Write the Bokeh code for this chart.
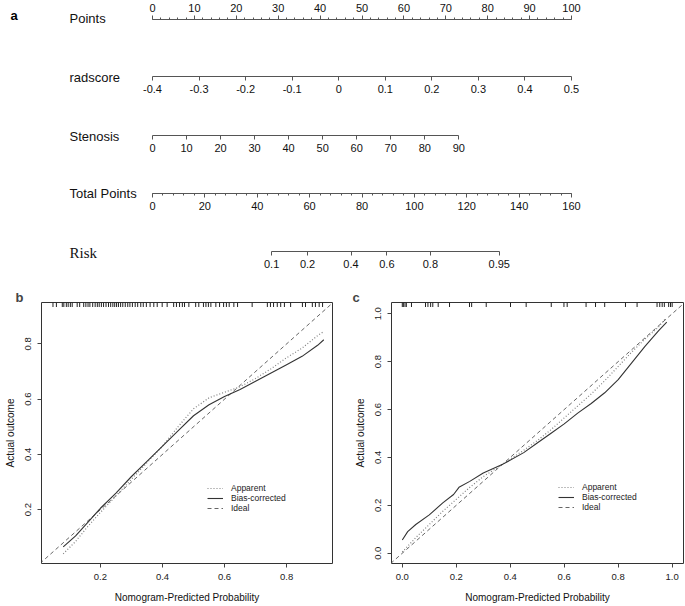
import numpy as np
from bokeh.plotting import figure
from bokeh.layouts import column, row
from bokeh.models import (Range1d, LinearAxis, SingleIntervalTicker, FixedTicker,
                          Label, Legend, LegendItem, NumeralTickFormatter)
from bokeh.embed import file_html
from bokeh.resources import INLINE

FONT = "Liberation Sans"
SERIF = "Liberation Serif"

# ---------------- data: nomogram (panel a) ----------------
row_names = ["Points", "radscore", "Stenosis", "Total Points", "Risk"]
points_range = [0, 100]
radscore_ticks = [-0.4, -0.3, -0.2, -0.1, 0.0, 0.1, 0.2, 0.3, 0.4, 0.5]
radscore_labels = ["-0.4", "-0.3", "-0.2", "-0.1", "0", "0.1", "0.2", "0.3", "0.4", "0.5"]
stenosis_range = [0, 90]
stenosis_points_at_max = 73.1          # points given to Stenosis = 90
total_range = [0, 160]
risk_labels = ["0.1", "0.2", "0.4", "0.6", "0.8", "0.95"]
risk_total_points = [45.5, 59.2, 75.8, 89.5, 106.1, 132.4]

# ---------------- data: calibration (panel b) ----------------
b_rug = [0.047, 0.058, 0.077, 0.082, 0.090, 0.096, 0.103, 0.109, 0.125, 0.133,
         0.146, 0.153, 0.160, 0.166, 0.175, 0.183, 0.190, 0.196, 0.203, 0.210,
         0.218, 0.226, 0.233, 0.240, 0.246, 0.252, 0.258, 0.265, 0.272, 0.280,
         0.288, 0.295, 0.303, 0.312, 0.320, 0.330, 0.338, 0.348, 0.360, 0.372,
         0.383, 0.399, 0.415, 0.436, 0.445, 0.455, 0.464, 0.471, 0.485, 0.507,
         0.517, 0.532, 0.540, 0.548, 0.556, 0.572, 0.584, 0.597, 0.606, 0.615,
         0.630, 0.642, 0.689, 0.738, 0.748, 0.758, 0.770, 0.781, 0.793, 0.813,
         0.851, 0.861, 0.883, 0.893, 0.905, 0.916]
b_pred = [0.08, 0.12, 0.16, 0.20, 0.25, 0.30, 0.35, 0.40, 0.45, 0.50,
          0.55, 0.60, 0.65, 0.70, 0.75, 0.80, 0.85, 0.90, 0.92]
b_apparent = [0.040, 0.085, 0.140, 0.190, 0.250, 0.310, 0.370, 0.430, 0.500, 0.565,
              0.605, 0.625, 0.645, 0.675, 0.710, 0.750, 0.785, 0.830, 0.845]
b_bias = [0.065, 0.105, 0.155, 0.205, 0.260, 0.320, 0.375, 0.430, 0.485, 0.540,
          0.580, 0.610, 0.635, 0.665, 0.695, 0.725, 0.755, 0.795, 0.815]
b_xticks = [0.2, 0.4, 0.6, 0.8]
b_yticks = [0.2, 0.4, 0.6, 0.8]

# ---------------- data: calibration (panel c) ----------------
c_rug = [0.0, 0.004, 0.010, 0.015, 0.034, 0.086, 0.095, 0.105, 0.113, 0.133,
         0.175, 0.249, 0.257, 0.311, 0.401, 0.459, 0.552, 0.599, 0.611, 0.681,
         0.716, 0.750, 0.827, 0.870, 0.944, 0.954, 0.963, 0.971, 0.987, 0.994, 1.0]
c_app_pred = [0.0, 0.05, 0.10, 0.15, 0.20, 0.25, 0.30, 0.37, 0.45, 0.50,
              0.55, 0.60, 0.65, 0.70, 0.75, 0.80, 0.85, 0.90, 0.95, 0.975]
c_apparent = [0.005, 0.065, 0.120, 0.175, 0.225, 0.275, 0.320, 0.370, 0.430, 0.470,
              0.515, 0.565, 0.615, 0.665, 0.720, 0.780, 0.840, 0.895, 0.945, 0.980]
c_bias_pred = [0.0, 0.02, 0.05, 0.10, 0.15, 0.19, 0.21, 0.25, 0.30, 0.37, 0.45,
               0.50, 0.55, 0.60, 0.65, 0.70, 0.75, 0.80, 0.85, 0.90, 0.95, 0.98]
c_bias = [0.055, 0.090, 0.120, 0.160, 0.210, 0.245, 0.275, 0.300, 0.335, 0.370, 0.420,
          0.460, 0.500, 0.540, 0.585, 0.625, 0.670, 0.725, 0.795, 0.865, 0.930, 0.965]
c_xticks = [0.0, 0.2, 0.4, 0.6, 0.8, 1.0]
c_yticks = [0.0, 0.2, 0.4, 0.6, 0.8, 1.0]

# ---------------- layout constants ----------------
W = 685
NAME_W = 139
AX_W = W - NAME_W
P0, P1 = 152 - NAME_W, 571 - NAME_W   # axis-figure pixels of 0 and 100 points
AXC = "#555555"
ROW_H = [36, 59, 59, 58, 58]           # heights of the nomogram rows
NAME_Y = [18, 77, 136, 193, 252]       # vertical centres of the row names (from top)
TOP_H = sum(ROW_H)


def bare(width, height, xr, yr):
    p = figure(width=width, height=height, x_range=xr, y_range=yr,
               output_backend="svg", toolbar_location=None,
               x_axis_location=None, y_axis_location=None, min_border=0)
    p.outline_line_color = None
    p.grid.visible = False
    return p


def nomo(height, v0, v1, px0, px1, side, ticker, overrides=None, minor=True, bounds=None):
    k = (v1 - v0) / (px1 - px0)
    p = bare(AX_W, height, Range1d(v0 - px0 * k, v1 + (AX_W - px1) * k), Range1d(0, 1))
    ax = LinearAxis(ticker=ticker, bounds=bounds or (v0, v1),
                    axis_line_color=AXC, major_tick_line_color=AXC,
                    minor_tick_line_color=AXC if minor else None,
                    major_tick_out=4, major_tick_in=0, minor_tick_out=2, minor_tick_in=0,
                    major_label_standoff=4,
                    major_label_text_font=FONT, major_label_text_font_size="11px",
                    major_label_text_color="#111111")
    if overrides:
        ax.major_label_overrides = overrides
    p.add_layout(ax, side)
    return p


f_points = nomo(ROW_H[0], points_range[0], points_range[1], P0, P1, "above",
                SingleIntervalTicker(interval=10, num_minor_ticks=5))
f_rad = nomo(ROW_H[1], radscore_ticks[0], radscore_ticks[-1], P0, P1, "below",
             FixedTicker(ticks=radscore_ticks),
             overrides=dict(zip(radscore_ticks, radscore_labels)), minor=False)
sten_px1 = P0 + (P1 - P0) * stenosis_points_at_max / 100.0
f_sten = nomo(ROW_H[2], stenosis_range[0], stenosis_range[1], P0, sten_px1, "below",
              SingleIntervalTicker(interval=10, num_minor_ticks=0), minor=False)
f_total = nomo(ROW_H[3], total_range[0], total_range[1], P0, P1, "below",
               SingleIntervalTicker(interval=20, num_minor_ticks=5))
# Risk axis lives on the total-points scale
f_risk = nomo(ROW_H[4], total_range[0], total_range[1], P0, P1, "below",
              FixedTicker(ticks=risk_total_points),
              overrides=dict(zip(risk_total_points, risk_labels)),
              minor=False, bounds=(risk_total_points[0], risk_total_points[-1]))

# one tall figure holding the row names
f_names = bare(NAME_W, TOP_H, Range1d(0, NAME_W), Range1d(0, TOP_H))
for name, yc in zip(row_names, NAME_Y):
    f_names.add_layout(Label(x=69, y=TOP_H - yc, text=name,
                             text_font=SERIF if name == "Risk" else FONT,
                             text_font_size="15px" if name == "Risk" else "13px",
                             text_baseline="middle", text_align="left",
                             text_color="#111111"))
f_names.add_layout(Label(x=10, y=TOP_H - 15, text="a", text_font=FONT,
                         text_font_size="13px", text_font_style="bold",
                         text_baseline="middle", text_align="left", text_color="#000000"))


def calib(width, xr, yr, mbl, mbr, xt, yt, rug, app_x, app_y, bias_x, bias_y,
          letter, letter_dx, leg_x, leg_y):
    p = figure(width=width, height=606 - TOP_H, x_range=Range1d(*xr), y_range=Range1d(*yr),
               output_backend="svg", toolbar_location=None,
               min_border_left=mbl, min_border_right=mbr,
               min_border_top=32, min_border_bottom=43)
    p.grid.visible = False
    p.outline_line_color = "#333333"
    p.outline_line_width = 1
    for ax, ticks in ((p.xaxis[0], xt), (p.yaxis[0], yt)):
        ax.ticker = FixedTicker(ticks=ticks)
        ax.formatter = NumeralTickFormatter(format="0.0")
        ax.axis_line_color = None
        ax.major_tick_line_color = "#444444"
        ax.minor_tick_line_color = None
        ax.major_tick_out = 4
        ax.major_tick_in = 0
        ax.major_label_standoff = 6
        ax.major_label_text_font = FONT
        ax.major_label_text_font_size = "9.5px"
        ax.major_label_text_color = "#222222"
        ax.axis_label_text_font = FONT
        ax.axis_label_text_font_size = "10px"
        ax.axis_label_text_font_style = "normal"
        ax.axis_label_text_color = "#111111"
    p.xaxis[0].axis_label = "Nomogram-Predicted Probability"
    p.xaxis[0].axis_label_standoff = 9
    p.yaxis[0].axis_label = "Actual outcome"
    p.yaxis[0].axis_label_standoff = 7
    p.yaxis[0].major_label_orientation = "vertical"

    p.title.text = letter
    p.title.align = "left"
    p.title.offset = letter_dx
    p.title.text_font = FONT
    p.title.text_font_size = "13px"
    p.title.text_font_style = "bold"
    p.title.standoff = -4
    p.title.vertical_align = "bottom"

    lo, hi = min(xr[0], yr[0]), max(xr[1], yr[1])
    r_ideal = p.line(x=[lo, hi], y=[lo, hi], line_color="#666666", line_width=1,
                     line_dash="4 3")
    r_app = p.line(x=app_x, y=app_y, line_color="#808080", line_width=1.2,
                   line_dash="1 2")
    r_bias = p.line(x=bias_x, y=bias_y, line_color="#333333", line_width=1.1)
    p.scatter(x=rug, y=[yr[1]] * len(rug), marker="dash", angle=np.pi / 2, size=9,
              line_color="#222222", line_width=1)

    leg = Legend(items=[LegendItem(label="Apparent", renderers=[r_app]),
                        LegendItem(label="Bias-corrected", renderers=[r_bias]),
                        LegendItem(label="Ideal", renderers=[r_ideal])],
                 location=(leg_x, leg_y), border_line_color=None,
                 background_fill_alpha=0, label_text_font=FONT,
                 label_text_font_size="8.5px", label_text_color="#222222",
                 glyph_width=16, glyph_height=10, label_height=10, label_standoff=8,
                 spacing=0, padding=0, margin=0)
    p.add_layout(leg)
    return p


f_b = calib(345, (0.01, 0.948), (0.005, 0.95), 41, 13, b_xticks, b_yticks, b_rug,
            b_pred, b_apparent, b_pred, b_bias, "b", -26, 166, 50)
f_c = calib(340, (-0.04, 1.042), (-0.043, 1.047), 46, 2, c_xticks, c_yticks, c_rug,
            c_app_pred, c_apparent, c_bias_pred, c_bias, "c", -39, 167, 51)

top = row(f_names, column(f_points, f_rad, f_sten, f_total, f_risk, spacing=0), spacing=0)
layout = column(top, row(f_b, f_c, spacing=0), spacing=0)

open("out.html", "w").write(file_html(layout, INLINE))
